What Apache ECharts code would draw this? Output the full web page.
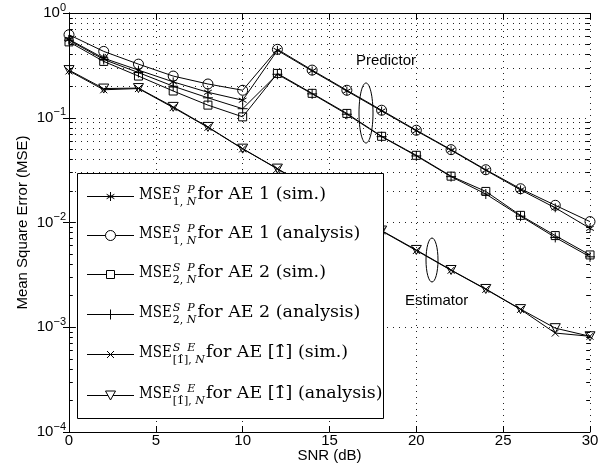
<!DOCTYPE html>
<html>
<head>
<meta charset="utf-8">
<script src="https://cdn.jsdelivr.net/npm/echarts@6/dist/echarts.min.js"></script>
<style>
  html, body { margin: 0; padding: 0; background: #fff; }
  #chart { width: 613px; height: 466px; }
</style>
</head>
<body>
<div id="chart"></div>
<script>
// SNR sweep (dB)
const snr = [0, 2, 4, 6, 8, 10, 12, 14, 16, 18, 20, 22, 24, 26, 28, 30];

// Predictor MSE, AE 1
const ae1Sim = [0.56, 0.37, 0.285, 0.22, 0.175, 0.147, 0.44, 0.28, 0.18, 0.116, 0.075, 0.049, 0.0315, 0.0205, 0.0138, 0.0088];
const ae1Ana = [0.62, 0.43, 0.325, 0.25, 0.21, 0.183, 0.45, 0.285, 0.183, 0.118, 0.076, 0.0496, 0.0319, 0.021, 0.0146, 0.0102];
// Predictor MSE, AE 2
const ae2Sim = [0.53, 0.345, 0.25, 0.18, 0.132, 0.102, 0.265, 0.171, 0.110, 0.0665, 0.0438, 0.0277, 0.0198, 0.0117, 0.0075, 0.0049];
const ae2Ana = [0.55, 0.36, 0.27, 0.20, 0.155, 0.122, 0.26, 0.169, 0.108, 0.066, 0.0432, 0.0274, 0.0187, 0.0115, 0.0072, 0.0047];
// Estimator MSE, AE [1^]
const seSim = [0.28, 0.185, 0.19, 0.125, 0.081, 0.0505, 0.0325, 0.0207, 0.0131, 0.0083, 0.0054, 0.0035, 0.0023, 0.00148, 0.00088, 0.00082];
const seAna = [0.285, 0.19, 0.192, 0.127, 0.0817, 0.0507, 0.0327, 0.0208, 0.0132, 0.00838, 0.00547, 0.00352, 0.00232, 0.00149, 0.00098, 0.00082];

// Axis ticks
const xTicks = [0, 5, 10, 15, 20, 25, 30];
const yMin = 1e-4, yMax = 1;
const minorMultipliers = [2, 3, 4, 5, 6, 7, 8, 9];

// Legend text pieces
const legendSup = ['S  P', 'S  P', 'S  P', 'S  P', 'S  E', 'S  E'];
const legendSub = ['1,', '1,', '2,', '2,', '[1\u0302],', '[1\u0302],'];
const legendTail = ['for AE 1 (sim.)', 'for AE 1 (analysis)', 'for AE 2 (sim.)', 'for AE 2 (analysis)',
                    'for AE [1\u0302] (sim.)', 'for AE [1\u0302] (analysis)'];

// Marker shapes (unit box 0..10)
const SYM_STAR = 'path://M5,0L5,10M0.7,2.5L9.3,7.5M0.7,7.5L9.3,2.5';
const SYM_PLUS = 'path://M5,0L5,10M0,5L10,5';
const SYM_X = 'path://M0,0L10,10M10,0L0,10';
const SYM_SQUARE = 'path://M0,0L10,0L10,10L0,10Z';
const SYM_TRI = 'path://M0,0L10,0L5,9Z';

const SANS = 'Liberation Sans, Arial, sans-serif';
const SERIF = 'DejaVu Serif, serif';

const seriesDefs = [
  { name: 'AE1 sim', data: ae1Sim, symbol: SYM_STAR, size: 9 },
  { name: 'AE1 analysis', data: ae1Ana, symbol: 'circle', size: 10 },
  { name: 'AE2 sim', data: ae2Sim, symbol: SYM_SQUARE, size: 8 },
  { name: 'AE2 analysis', data: ae2Ana, symbol: SYM_PLUS, size: 10 },
  { name: 'SE sim', data: seSim, symbol: SYM_X, size: 7 },
  { name: 'SE analysis', data: seAna, symbol: SYM_TRI, size: 10 }
];

// dotted minor grid lines and minor ticks at 2..9 x 10^k
const minorVals = [];
for (let k = -4; k < 0; k++) {
  minorMultipliers.forEach(m => minorVals.push(Number((m * Math.pow(10, k)).toPrecision(3))));
}
const dotted = { type: [1, 5], color: '#222', width: 1 };
const markLineData = [];
minorVals.forEach(v => {
  markLineData.push({ yAxis: v, lineStyle: dotted });
  markLineData.push([{ coord: [0, v], lineStyle: { type: 'solid', color: '#000', width: 1 } }, { coord: [0.22, v] }]);
  markLineData.push([{ coord: [30, v], lineStyle: { type: 'solid', color: '#000', width: 1 } }, { coord: [29.78, v] }]);
});

const series = seriesDefs.map((d, i) => ({
  type: 'line',
  name: d.name,
  data: snr.map((x, j) => [x, d.data[j]]),
  symbol: d.symbol,
  symbolSize: d.size,
  symbolKeepAspect: true,
  showAllSymbol: true,
  lineStyle: { color: '#000', width: 1 },
  itemStyle: { color: 'none', borderColor: '#000', borderWidth: 1 },
  emphasis: { disabled: true },
  silent: true,
  z: 3,
  markLine: i === 0 ? {
    silent: true,
    symbol: ['none', 'none'],
    label: { show: false },
    animation: false,
    data: markLineData
  } : undefined
}));

// Legend drawn as a boxed overlay
const measureCtx = document.createElement('canvas').getContext('2d');
function textWidth(txt, font) { measureCtx.font = font; return measureCtx.measureText(txt).width; }

// legend marker drawn from simple graphic primitives
function legendMarker(symbol, cx, cy, s) {
  const h = s / 2;
  const st = { stroke: '#000', lineWidth: 1, fill: 'none' };
  const ln = (x1, y1, x2, y2) => ({ type: 'line', z: 102, shape: { x1, y1, x2, y2 }, style: st });
  if (symbol === 'circle') return [{ type: 'circle', z: 102, shape: { cx, cy, r: h }, style: { stroke: '#000', lineWidth: 1, fill: '#fff' } }];
  if (symbol === SYM_SQUARE) return [{ type: 'rect', z: 102, shape: { x: cx - h, y: cy - h, width: s, height: s }, style: { stroke: '#000', lineWidth: 1, fill: '#fff' } }];
  if (symbol === SYM_TRI) return [{ type: 'polygon', z: 102, shape: { points: [[cx - h, cy - h * 0.9], [cx + h, cy - h * 0.9], [cx, cy + h * 0.9]] }, style: { stroke: '#000', lineWidth: 1, fill: '#fff' } }];
  if (symbol === SYM_PLUS) return [ln(cx, cy - h, cx, cy + h), ln(cx - h, cy, cx + h, cy)];
  if (symbol === SYM_X) return [ln(cx - h, cy - h, cx + h, cy + h), ln(cx + h, cy - h, cx - h, cy + h)];
  // asterisk
  return [ln(cx, cy - h, cx, cy + h), ln(cx - h * 0.86, cy - h * 0.5, cx + h * 0.86, cy + h * 0.5), ln(cx - h * 0.86, cy + h * 0.5, cx + h * 0.86, cy - h * 0.5)];
}

const LEG = { left: 77, top: 173, width: 306, height: 245, lineX0: 87, lineX1: 134, textX: 139 };
const rowY = [196, 235, 274, 314, 354, 395];
const mainFont = '16px ' + SERIF;
const MSE_SCALE = 0.84;   // narrower upright "MSE"
const TAIL_SCALE = 1.09;  // wide text face
const smallFont = '11px ' + SERIF;
const smallItalic = 'italic 11px ' + SERIF;

const legendEls = [{
  type: 'rect',
  shape: { x: LEG.left + 0.5, y: LEG.top + 0.5, width: LEG.width, height: LEG.height },
  style: { fill: '#fff', stroke: '#000', lineWidth: 1 },
  z: 100
}];
seriesDefs.forEach((d, i) => {
  const y = rowY[i] + 0.5;
  const cx = (LEG.lineX0 + LEG.lineX1) / 2;
  legendEls.push({
    type: 'line', shape: { x1: LEG.lineX0, y1: y, x2: LEG.lineX1, y2: y },
    style: { stroke: '#000', lineWidth: 1 }, z: 101
  });
  legendMarker(d.symbol, cx, y, d.size).forEach(el => legendEls.push(el));
  const mseW = textWidth('MSE', mainFont) * MSE_SCALE;
  const supX = LEG.textX + mseW + 1;
  const supW = textWidth(legendSup[i], smallItalic);
  const subW = textWidth(legendSub[i] + ' ', smallFont) + textWidth('N', smallItalic);
  const tailX = supX + Math.max(supW, subW) + 1;
  legendEls.push({ type: 'text', z: 103, x: LEG.textX, y: y - 2, scaleX: MSE_SCALE,
    style: { text: 'MSE', x: 0, y: 0, font: mainFont, fill: '#000', verticalAlign: 'middle' } });
  legendEls.push({ type: 'text', z: 103,
    style: { text: legendSup[i], x: supX, y: y - 6, font: smallItalic, fill: '#000', verticalAlign: 'middle' } });
  legendEls.push({ type: 'text', z: 103,
    style: { text: '{u|' + legendSub[i] + ' }{i|N}', x: supX, y: y + 5.5, verticalAlign: 'middle',
      rich: { u: { font: smallFont, fill: '#000' }, i: { font: smallItalic, fill: '#000' } } } });
  legendEls.push({ type: 'text', z: 103, x: tailX, y: y - 2, scaleX: TAIL_SCALE,
    style: { text: legendTail[i], x: 0, y: 0, font: mainFont, fill: '#000', verticalAlign: 'middle' } });
});

// Group annotations
const annotEls = [
  { type: 'text', z: 50, style: { text: 'Predictor', x: 356, y: 61, font: '15px ' + SANS, fill: '#000', verticalAlign: 'middle' } },
  { type: 'ellipse', z: 50, shape: { cx: 366, cy: 113, rx: 7, ry: 30 }, style: { fill: 'none', stroke: '#000', lineWidth: 1 } },
  { type: 'text', z: 50, style: { text: 'Estimator', x: 405, y: 301, font: '15px ' + SANS, fill: '#000', verticalAlign: 'middle' } },
  { type: 'ellipse', z: 50, shape: { cx: 432, cy: 260, rx: 6, ry: 22 }, style: { fill: 'none', stroke: '#000', lineWidth: 1 } }
];

const axisBlack = { lineStyle: { color: '#000', width: 1 } };
const option = {
  animation: false,
  backgroundColor: '#fff',
  grid: { left: 69, right: 23, top: 13, bottom: 34, containLabel: false, outerBoundsMode: 'none' },
  xAxis: [{
    type: 'value', min: xTicks[0], max: xTicks[xTicks.length - 1], interval: xTicks[1] - xTicks[0],
    position: 'bottom',
    axisLine: axisBlack,
    axisTick: { inside: true, length: 6, lineStyle: { color: '#000' } },
    axisLabel: { color: '#000', fontFamily: SANS, fontSize: 15, margin: 1 },
    splitLine: { show: true, lineStyle: dotted },
    name: 'SNR (dB)', nameLocation: 'middle', nameGap: 16, nameMoveOverlap: false,
    nameTextStyle: { color: '#000', fontFamily: SANS, fontSize: 15 }
  }, {
    type: 'value', min: xTicks[0], max: xTicks[xTicks.length - 1], interval: xTicks[1] - xTicks[0],
    position: 'top',
    axisLine: axisBlack,
    axisTick: { inside: true, length: 6, lineStyle: { color: '#000' } },
    axisLabel: { show: false },
    splitLine: { show: false }
  }],
  yAxis: [{
    type: 'log', logBase: 10, min: yMin, max: yMax,
    position: 'left',
    axisLine: axisBlack,
    axisTick: { inside: true, length: 6, lineStyle: { color: '#000' } },
    axisLabel: {
      margin: 3,
      formatter: v => {
        const e = Math.round(Math.log10(v));
        return '{b|10}{e|' + (e < 0 ? '\u2212' : '') + Math.abs(e) + '}';
      },
      rich: {
        b: { fontFamily: SANS, fontSize: 15, color: '#000', lineHeight: 22, verticalAlign: 'middle' },
        e: { fontFamily: SANS, fontSize: 11, color: '#000', lineHeight: 22, verticalAlign: 'top' }
      }
    },
    splitLine: { show: true, lineStyle: dotted },
    name: 'Mean Square Error (MSE)', nameLocation: 'middle', nameGap: 39, nameRotate: 90, nameMoveOverlap: false,
    nameTextStyle: { color: '#000', fontFamily: SANS, fontSize: 15 }
  }, {
    type: 'log', logBase: 10, min: yMin, max: yMax,
    position: 'right',
    axisLine: axisBlack,
    axisTick: { inside: true, length: 6, lineStyle: { color: '#000' } },
    axisLabel: { show: false },
    splitLine: { show: false }
  }],
  series: series,
  graphic: annotEls.concat(legendEls)
};

const chart = echarts.init(document.getElementById('chart'), null, { renderer: 'canvas' });
chart.setOption(option);
</script>
</body>
</html>
